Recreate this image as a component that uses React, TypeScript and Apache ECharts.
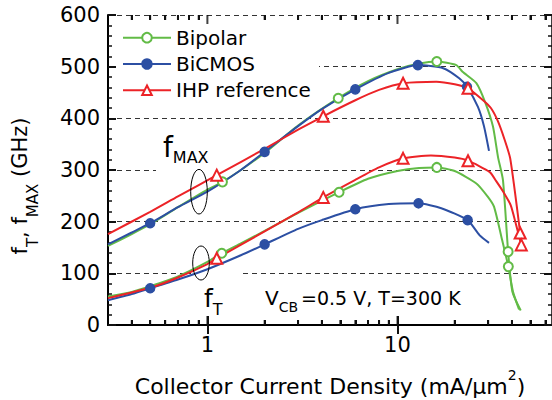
import React, { useEffect, useRef } from "react";
import * as echarts from "echarts";

type Pt = [number, number];

const FONT = "DejaVu Sans";
const GREEN = "#62bb46";
const BLUE = "#2c4fa3";
const RED = "#ec2327";

const seriesNames = ["Bipolar", "BiCMOS", "IHP reference"];

const xMin = 0.3;
const xMax = 65;
const yMin = 0;
const yMax = 600;
const yStep = 100;
const xLabelValues = [1, 10];
const xMinorTicks = [0.4, 0.5, 0.6, 0.7, 0.8, 0.9, 2, 3, 4, 5, 6, 7, 8, 9, 20, 30, 40, 50, 60];

// Bipolar (green)
const bipolarFmaxCurve: Pt[] = [
  [0.3, 153], [0.4, 176], [0.5, 195], [0.7, 228], [1.0, 262], [1.5, 300], [2, 333], [3, 386],
  [7, 472], [10, 495], [13, 506], [20.4, 503], [22, 490], [26, 468], [29, 430], [31.8, 384],
  [33.8, 325], [35.9, 280], [40.2, 65], [44.5, 28],
];
const bipolarFmaxMarkers: Pt[] = [[1.2, 277], [4.88, 439], [16.1, 510], [38.2, 142]];
const bipolarFtCurve: Pt[] = [
  [0.3, 55], [0.4, 64], [0.5, 75], [0.7, 94], [1.0, 122], [1.5, 158], [2, 182], [3, 217],
  [7, 283], [10, 298], [13, 304], [20, 298], [26, 274], [29.9, 248], [32.2, 229], [35.5, 165],
  [40.5, 65], [43.6, 30],
];
const bipolarFtMarkers: Pt[] = [[1.19, 139], [4.93, 257], [16.1, 305], [38.3, 113]];

// BiCMOS (blue)
const bicmosFmaxCurve: Pt[] = [
  [0.3, 156], [0.4, 179], [0.7, 228], [1, 258], [1.5, 300], [3, 385], [4, 418], [9, 488],
  [17.4, 497], [21.2, 477], [26.5, 422], [28.5, 385], [30.3, 337],
];
const bicmosFmaxMarkers: Pt[] = [[0.5, 197], [2, 335], [6, 456], [12.8, 503], [23.2, 461]];
const bicmosFtCurve: Pt[] = [
  [0.3, 48], [0.4, 60], [0.7, 88], [1, 108], [1.5, 135], [3, 186], [4, 203], [9, 234],
  [17, 226], [27, 174], [30.3, 159],
];
const bicmosFtMarkers: Pt[] = [[0.5, 71], [2, 156], [6, 224], [12.9, 235.5], [23.4, 203]];

// IHP reference (red)
const ihpFmaxCurve: Pt[] = [
  [0.3, 176], [0.5, 219], [0.7, 249], [2, 341], [3, 378], [6, 435], [8, 455], [16, 471],
  [20, 466], [28.2, 435], [31, 420], [33.7, 395], [36.5, 360], [39.2, 322],
];
const ihpFmaxMarkers: Pt[] = [[1.12, 290], [4.07, 404], [10.7, 468], [23.5, 458], [44.2, 178]];
const ihpFtCurve: Pt[] = [
  [0.3, 52], [0.5, 72], [0.7, 92], [1.0, 118], [2, 181], [3, 218], [6, 281], [8, 305],
  [15, 328], [20, 324], [30.6, 296], [33, 279], [36, 258], [39.4, 232], [42, 195],
];
const ihpFtMarkers: Pt[] = [[1.12, 129], [4.07, 247], [10.7, 322.6], [23.5, 318], [44.8, 155]];

function merge(curve: Pt[], markers: Pt[]) {
  const items: any[] = [
    ...curve.map((p) => ({ value: p, symbol: "none" })),
    ...markers.map((p) => ({ value: p })),
  ];
  items.sort((a, b) => a.value[0] - b.value[0]);
  return items;
}

function lineSeries(name: string, color: string, symbol: string, size: number, data: any[]) {
  return {
    type: "line",
    name,
    data,
    symbol,
    symbolSize: size,
    showSymbol: true,
    showAllSymbol: true,
    smooth: 0.2,
    z: 3,
    lineStyle: { color, width: 2 },
    itemStyle: { color, borderColor: color, borderWidth: 1.5 },
    emphasis: { disabled: true },
  };
}

// tick marks drawn as thin rectangles placed through the log x scale
function tickMarks(values: number[], yValue: number, len: number, downward: boolean) {
  return {
    type: "scatter",
    silent: true,
    clip: false,
    z: 6,
    symbol: "rect",
    symbolSize: [2, len],
    symbolOffset: [0, downward ? len / 2 : -len / 2],
    itemStyle: { color: "#111" },
    emphasis: { disabled: true },
    tooltip: { show: false },
    data: values.map((v) => [v, yValue]),
  };
}

function xTickAxis(position: string, values: number[], length: number, showLine: boolean) {
  return {
    type: "log",
    min: xMin,
    max: xMax,
    position,
    offset: 0,
    axisLine: { show: showLine, lineStyle: { color: "#000", width: position === "bottom" ? 2 : 1.5 } },
    axisTick: { show: true, inside: true, length, lineStyle: { color: "#111", width: 2 }, customValues: values },
    axisLabel: { show: false },
    splitLine: { show: false },
  };
}

export default function App() {
  const ref = useRef<HTMLDivElement>(null);
  useEffect(() => {
    if (!ref.current) return;
    const chart = echarts.init(ref.current, undefined, { renderer: "svg" });
    const option: any = {
      animation: false,
      backgroundColor: "#fff",
      textStyle: { fontFamily: FONT, color: "#000" },
      grid: { left: 108, right: 0, top: 15, bottom: 75, containLabel: false, outerBoundsMode: "none" },
      legend: {
        data: seriesNames,
        orient: "vertical",
        left: 122,
        top: 27.7,
        padding: 0,
        itemWidth: 48,
        itemHeight: 12,
        itemGap: 6.3,
        textStyle: { fontSize: 20, fontFamily: FONT, color: "#000", lineHeight: 20 },
      },
      xAxis: [
        {
          type: "log",
          min: xMin,
          max: xMax,
          position: "bottom",
          name: "Collector Current Density (mA/\u03bcm{sup|2})",
          nameLocation: "middle",
          nameGap: 43,
          nameTextStyle: {
            fontSize: 22,
            fontFamily: FONT,
            color: "#000",
            rich: { sup: { fontSize: 14, fontFamily: FONT, color: "#000", padding: [0, 0, 23, 0] } },
          },
          axisLine: { show: true, lineStyle: { color: "#000", width: 2 } },
          axisTick: { show: true, inside: true, length: 9, lineStyle: { color: "#111", width: 2 }, customValues: xLabelValues },
          splitLine: { show: false },
          axisLabel: {
            fontSize: 21,
            fontFamily: FONT,
            color: "#000",
            margin: 9,
            formatter: (v: number) => {
              const hit = xLabelValues.find((t) => Math.abs(t - v) < 1e-6 * t);
              return hit !== undefined ? String(hit) : "";
            },
          },
        },
        xTickAxis("top", xLabelValues, 9, true),
        xTickAxis("bottom", xMinorTicks, 5, false),
        xTickAxis("top", xMinorTicks, 5, false),
      ],
      yAxis: [
        {
          type: "value",
          min: yMin,
          max: yMax,
          interval: yStep,
          position: "left",
          axisLine: { show: true, lineStyle: { color: "#000", width: 2 } },
          axisTick: { show: true, inside: true, length: 8, lineStyle: { color: "#111", width: 2 } },
          minorTick: { show: true, splitNumber: 5, length: 4, lineStyle: { color: "#111", width: 1.5 } },
          splitLine: { show: true, lineStyle: { color: "#333", width: 1, type: [5, 4] } },
          axisLabel: { fontSize: 21, fontFamily: FONT, color: "#000", margin: 8 },
        },
        {
          type: "value",
          min: yMin,
          max: yMax,
          interval: yStep,
          position: "right",
          axisLine: { show: true, lineStyle: { color: "#000", width: 1.5 } },
          axisTick: { show: true, inside: true, length: 8, lineStyle: { color: "#111", width: 2 } },
          minorTick: { show: true, splitNumber: 5, length: 4, lineStyle: { color: "#111", width: 1.5 } },
          splitLine: { show: false },
          axisLabel: { show: false },
        },
      ],
      series: [
        lineSeries(seriesNames[0], GREEN, "emptyCircle", 9, merge(bipolarFmaxCurve, bipolarFmaxMarkers)),
        lineSeries(seriesNames[0], GREEN, "emptyCircle", 9, merge(bipolarFtCurve, bipolarFtMarkers)),
        lineSeries(seriesNames[1], BLUE, "circle", 9, merge(bicmosFmaxCurve, bicmosFmaxMarkers)),
        lineSeries(seriesNames[1], BLUE, "circle", 9, merge(bicmosFtCurve, bicmosFtMarkers)),
        lineSeries(seriesNames[2], RED, "emptyTriangle", 11, merge(ihpFmaxCurve, ihpFmaxMarkers)),
        lineSeries(seriesNames[2], RED, "emptyTriangle", 11, merge(ihpFtCurve, ihpFtMarkers)),
        tickMarks(xLabelValues, yMin, 9, false),
        tickMarks(xMinorTicks, yMin, 5, false),
        tickMarks(xLabelValues, yMax, 9, true),
        tickMarks(xMinorTicks, yMax, 5, true),
      ],
      graphic: [
        { type: "rect", z: 1, silent: true, shape: { x: 117, y: 63, width: 202, height: 7 }, style: { fill: "#fff" } },
        { type: "rect", z: 1, silent: true, shape: { x: 156, y: 167, width: 86, height: 6 }, style: { fill: "#fff" } },
        { type: "rect", z: 1, silent: true, shape: { x: 191, y: 270, width: 51, height: 6 }, style: { fill: "#fff" } },
        {
          type: "ellipse", z: 10, silent: true,
          shape: { cx: 199, cy: 191.7, rx: 8.3, ry: 22.3 },
          style: { fill: "none", stroke: "#000", lineWidth: 1 },
        },
        {
          type: "ellipse", z: 10, silent: true,
          shape: { cx: 201, cy: 263, rx: 8.3, ry: 17 },
          style: { fill: "none", stroke: "#000", lineWidth: 1 },
        },
        {
          type: "text", z: 10, x: 163, y: 147.2,
          style: {
            text: "{f|f}{s|MAX}",
            align: "left",
            verticalAlign: "middle",
            fill: "#000",
            rich: {
              f: { fontSize: 28, fontFamily: FONT, fill: "#000" },
              s: { fontSize: 16, fontFamily: FONT, fill: "#000", padding: [20, 0, 0, 0] },
            },
          },
        },
        {
          type: "text", z: 10, x: 204, y: 298.5,
          style: {
            text: "{f|f}{s|T}",
            align: "left",
            verticalAlign: "middle",
            fill: "#000",
            rich: {
              f: { fontSize: 25, fontFamily: FONT, fill: "#000" },
              s: { fontSize: 16, fontFamily: FONT, fill: "#000", padding: [22, 0, 0, 0] },
            },
          },
        },
        {
          type: "text", z: 10, x: 265, y: 298.4,
          style: {
            text: "{v|V}{s|CB}{m|=0.5 V, T=300 K}",
            align: "left",
            verticalAlign: "middle",
            fill: "#000",
            rich: {
              v: { fontSize: 20, fontFamily: FONT, fill: "#000" },
              s: { fontSize: 14, fontFamily: FONT, fill: "#000", padding: [17, 0, 0, 0] },
              m: { fontSize: 19, fontFamily: FONT, fill: "#000", padding: [0, 0, 0, 3] },
            },
          },
        },
        {
          type: "text", z: 10, x: 19.6, y: 186, rotation: Math.PI / 2,
          style: {
            text: "{m|f}{s|T}{m|, f}{s|MAX}{m| (GHz)}",
            align: "center",
            verticalAlign: "middle",
            fill: "#000",
            rich: {
              m: { fontSize: 21, fontFamily: FONT, fill: "#000" },
              s: { fontSize: 15, fontFamily: FONT, fill: "#000", padding: [26, 0, 0, 0] },
            },
          },
        },
      ],
    };
    chart.setOption(option);
    return () => chart.dispose();
  }, []);
  return <div ref={ref} style={{ position: "absolute", left: 0, top: 0, width: 552, height: 400 }} />;
}
